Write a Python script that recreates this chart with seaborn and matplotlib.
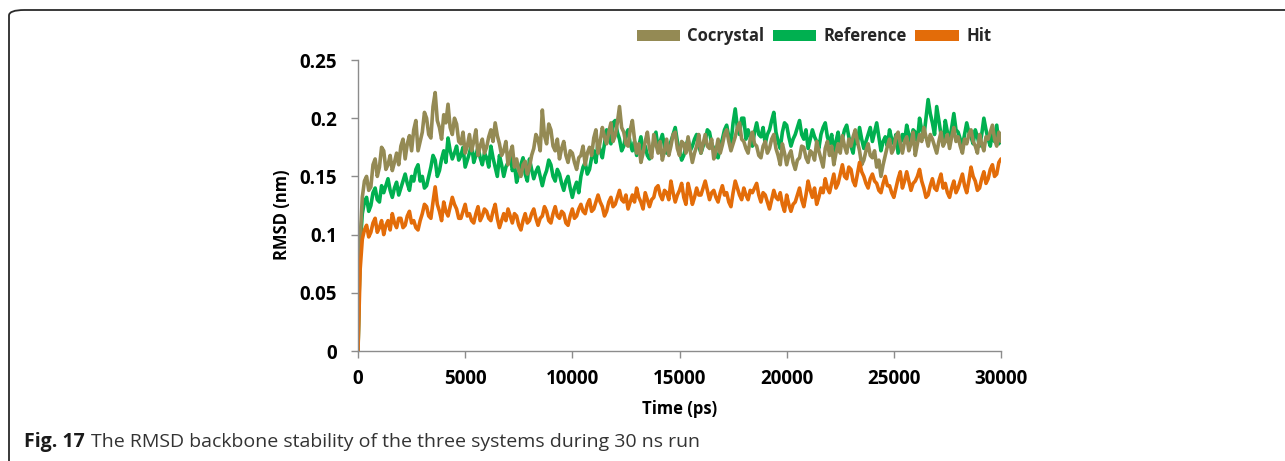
import numpy as np
import pandas as pd
import matplotlib
matplotlib.use("Agg")
import matplotlib.pyplot as plt
from matplotlib.patches import Patch, FancyBboxPatch
import seaborn as sns

# Backbone RMSD (nm) sampled every 100 ps over the 30 ns run
time_ps = list(range(0, 30001, 100))

cocrystal = [
    0.000, 0.095, 0.132, 0.146, 0.150, 0.138, 0.141, 0.160, 0.165, 0.150, 0.158, 0.175, 0.172, 0.156, 0.160, 0.168, 0.155, 0.162, 0.170, 0.160,
    0.176, 0.182, 0.165, 0.178, 0.185, 0.172, 0.190, 0.198, 0.172, 0.180, 0.188, 0.205, 0.200, 0.186, 0.183, 0.210, 0.222, 0.198, 0.192, 0.182,
    0.203, 0.196, 0.212, 0.192, 0.186, 0.200, 0.195, 0.180, 0.178, 0.188, 0.170, 0.176, 0.186, 0.172, 0.180, 0.190, 0.168, 0.176, 0.182, 0.170,
    0.175, 0.184, 0.190, 0.180, 0.196, 0.185, 0.178, 0.168, 0.172, 0.180, 0.160, 0.170, 0.176, 0.158, 0.165, 0.155, 0.150, 0.160, 0.163, 0.152,
    0.158, 0.168, 0.174, 0.186, 0.182, 0.172, 0.207, 0.185, 0.178, 0.195, 0.190, 0.176, 0.172, 0.182, 0.165, 0.174, 0.180, 0.168, 0.162, 0.172,
    0.170, 0.162, 0.156, 0.166, 0.168, 0.176, 0.160, 0.170, 0.175, 0.168, 0.183, 0.190, 0.170, 0.180, 0.192, 0.184, 0.178, 0.188, 0.196, 0.180,
    0.185, 0.196, 0.210, 0.192, 0.188, 0.178, 0.176, 0.190, 0.198, 0.182, 0.170, 0.178, 0.162, 0.170, 0.180, 0.188, 0.174, 0.166, 0.186, 0.178,
    0.170, 0.180, 0.164, 0.172, 0.182, 0.168, 0.176, 0.186, 0.188, 0.174, 0.168, 0.180, 0.178, 0.170, 0.184, 0.172, 0.162, 0.170, 0.176, 0.186,
    0.170, 0.178, 0.186, 0.176, 0.174, 0.182, 0.165, 0.172, 0.182, 0.170, 0.177, 0.186, 0.190, 0.180, 0.172, 0.178, 0.184, 0.192, 0.196, 0.182,
    0.180, 0.174, 0.170, 0.182, 0.188, 0.178, 0.176, 0.168, 0.166, 0.176, 0.180, 0.170, 0.174, 0.182, 0.186, 0.174, 0.168, 0.160, 0.178, 0.170,
    0.160, 0.168, 0.172, 0.162, 0.156, 0.164, 0.166, 0.176, 0.175, 0.166, 0.162, 0.172, 0.170, 0.164, 0.180, 0.172, 0.165, 0.158, 0.174, 0.180,
    0.168, 0.176, 0.160, 0.170, 0.178, 0.170, 0.185, 0.176, 0.170, 0.182, 0.176, 0.184, 0.190, 0.180, 0.172, 0.160, 0.164, 0.172, 0.178, 0.168,
    0.166, 0.172, 0.158, 0.164, 0.150, 0.160, 0.168, 0.176, 0.182, 0.170, 0.174, 0.184, 0.188, 0.178, 0.170, 0.180, 0.184, 0.172, 0.178, 0.188,
    0.168, 0.178, 0.186, 0.180, 0.192, 0.184, 0.176, 0.186, 0.182, 0.176, 0.170, 0.180, 0.188, 0.176, 0.180, 0.186, 0.174, 0.184, 0.192, 0.180,
    0.184, 0.176, 0.170, 0.182, 0.178, 0.186, 0.190, 0.180, 0.176, 0.170, 0.186, 0.178, 0.172, 0.184, 0.182, 0.188, 0.194, 0.182, 0.176, 0.188,
    0.180,
]

reference = [
    0.000, 0.090, 0.118, 0.128, 0.132, 0.120, 0.125, 0.136, 0.140, 0.130, 0.128, 0.142, 0.136, 0.142, 0.148, 0.138, 0.132, 0.140, 0.145, 0.134,
    0.140, 0.146, 0.152, 0.144, 0.138, 0.150, 0.146, 0.156, 0.160, 0.146, 0.150, 0.140, 0.142, 0.150, 0.158, 0.168, 0.164, 0.150, 0.155, 0.165,
    0.172, 0.162, 0.183, 0.172, 0.165, 0.170, 0.176, 0.164, 0.168, 0.175, 0.158, 0.164, 0.170, 0.178, 0.162, 0.168, 0.175, 0.166, 0.160, 0.170,
    0.166, 0.158, 0.176, 0.166, 0.158, 0.150, 0.168, 0.160, 0.150, 0.158, 0.162, 0.170, 0.155, 0.160, 0.145, 0.152, 0.160, 0.166, 0.152, 0.146,
    0.165, 0.156, 0.148, 0.154, 0.158, 0.150, 0.142, 0.150, 0.155, 0.164, 0.160, 0.150, 0.146, 0.156, 0.152, 0.144, 0.138, 0.146, 0.150, 0.140,
    0.132, 0.140, 0.145, 0.136, 0.150, 0.158, 0.162, 0.152, 0.156, 0.166, 0.172, 0.162, 0.180, 0.172, 0.166, 0.178, 0.190, 0.182, 0.178, 0.196,
    0.198, 0.188, 0.182, 0.172, 0.176, 0.186, 0.190, 0.178, 0.172, 0.180, 0.168, 0.176, 0.184, 0.172, 0.176, 0.168, 0.165, 0.172, 0.180, 0.188,
    0.174, 0.180, 0.186, 0.176, 0.170, 0.176, 0.180, 0.186, 0.192, 0.180, 0.172, 0.164, 0.168, 0.176, 0.182, 0.172, 0.176, 0.182, 0.186, 0.176,
    0.170, 0.176, 0.180, 0.190, 0.188, 0.178, 0.174, 0.168, 0.166, 0.176, 0.182, 0.190, 0.194, 0.184, 0.178, 0.196, 0.208, 0.192, 0.186, 0.200,
    0.200, 0.182, 0.190, 0.184, 0.176, 0.188, 0.196, 0.186, 0.184, 0.192, 0.178, 0.186, 0.190, 0.198, 0.205, 0.188, 0.180, 0.174, 0.188, 0.196,
    0.194, 0.184, 0.176, 0.182, 0.186, 0.192, 0.198, 0.186, 0.182, 0.190, 0.174, 0.182, 0.190, 0.184, 0.180, 0.174, 0.186, 0.192, 0.196, 0.184,
    0.178, 0.186, 0.170, 0.180, 0.188, 0.176, 0.182, 0.190, 0.194, 0.184, 0.176, 0.170, 0.185, 0.178, 0.192, 0.182, 0.174, 0.180, 0.186, 0.192,
    0.180, 0.188, 0.196, 0.184, 0.172, 0.180, 0.184, 0.176, 0.190, 0.182, 0.178, 0.186, 0.170, 0.178, 0.186, 0.180, 0.194, 0.186, 0.180, 0.190,
    0.188, 0.180, 0.200, 0.190, 0.184, 0.200, 0.216, 0.204, 0.196, 0.186, 0.210, 0.198, 0.186, 0.178, 0.198, 0.188, 0.180, 0.192, 0.204, 0.190,
    0.188, 0.182, 0.176, 0.186, 0.196, 0.188, 0.184, 0.178, 0.190, 0.184, 0.176, 0.186, 0.200, 0.190, 0.182, 0.176, 0.188, 0.180, 0.194, 0.178,
    0.185,
]

hit = [
    0.000, 0.070, 0.096, 0.104, 0.108, 0.098, 0.102, 0.110, 0.114, 0.102, 0.106, 0.112, 0.100, 0.108, 0.112, 0.104, 0.118, 0.110, 0.106, 0.114,
    0.114, 0.106, 0.108, 0.116, 0.120, 0.110, 0.112, 0.106, 0.104, 0.112, 0.118, 0.126, 0.124, 0.116, 0.114, 0.128, 0.141, 0.126, 0.120, 0.112,
    0.128, 0.120, 0.116, 0.124, 0.132, 0.126, 0.122, 0.114, 0.114, 0.120, 0.126, 0.116, 0.118, 0.112, 0.110, 0.118, 0.124, 0.112, 0.116, 0.122,
    0.120, 0.114, 0.112, 0.120, 0.126, 0.114, 0.106, 0.112, 0.118, 0.112, 0.122, 0.116, 0.110, 0.118, 0.116, 0.108, 0.104, 0.112, 0.118, 0.110,
    0.112, 0.118, 0.122, 0.114, 0.108, 0.114, 0.116, 0.124, 0.120, 0.112, 0.110, 0.118, 0.124, 0.116, 0.114, 0.120, 0.118, 0.110, 0.108, 0.116,
    0.122, 0.114, 0.116, 0.122, 0.126, 0.120, 0.118, 0.126, 0.130, 0.120, 0.122, 0.128, 0.134, 0.128, 0.124, 0.116, 0.120, 0.128, 0.132, 0.124,
    0.126, 0.132, 0.138, 0.130, 0.128, 0.134, 0.122, 0.128, 0.134, 0.128, 0.140, 0.132, 0.128, 0.122, 0.136, 0.130, 0.124, 0.130, 0.132, 0.140,
    0.142, 0.134, 0.130, 0.138, 0.136, 0.130, 0.146, 0.136, 0.128, 0.134, 0.138, 0.144, 0.132, 0.126, 0.144, 0.136, 0.126, 0.132, 0.140, 0.134,
    0.134, 0.140, 0.146, 0.138, 0.130, 0.136, 0.138, 0.132, 0.128, 0.136, 0.142, 0.134, 0.136, 0.128, 0.124, 0.136, 0.146, 0.140, 0.134, 0.130,
    0.140, 0.134, 0.130, 0.138, 0.136, 0.140, 0.144, 0.134, 0.128, 0.136, 0.134, 0.128, 0.122, 0.130, 0.138, 0.132, 0.130, 0.136, 0.126, 0.120,
    0.134, 0.126, 0.120, 0.126, 0.128, 0.134, 0.140, 0.130, 0.124, 0.134, 0.146, 0.138, 0.132, 0.140, 0.126, 0.132, 0.140, 0.136, 0.148, 0.140,
    0.136, 0.144, 0.152, 0.140, 0.144, 0.152, 0.160, 0.150, 0.148, 0.158, 0.156, 0.146, 0.142, 0.152, 0.162, 0.154, 0.150, 0.144, 0.140, 0.148,
    0.152, 0.146, 0.144, 0.138, 0.136, 0.144, 0.150, 0.142, 0.142, 0.136, 0.132, 0.140, 0.148, 0.154, 0.140, 0.146, 0.154, 0.146, 0.138, 0.144,
    0.146, 0.150, 0.156, 0.146, 0.140, 0.132, 0.134, 0.142, 0.148, 0.140, 0.138, 0.146, 0.152, 0.140, 0.144, 0.136, 0.132, 0.140, 0.146, 0.136,
    0.140, 0.146, 0.152, 0.142, 0.136, 0.146, 0.158, 0.150, 0.146, 0.138, 0.140, 0.148, 0.154, 0.144, 0.148, 0.156, 0.160, 0.150, 0.152, 0.162,
    0.165,
]

series_names = ["Cocrystal", "Reference", "Hit"]
series_colors = ["#948A54", "#00B050", "#E36C09"]
draw_order = ["Reference", "Cocrystal", "Hit"]
y_ticks = [0, 0.05, 0.1, 0.15, 0.2, 0.25]
y_tick_labels = ["0", "0.05", "0.1", "0.15", "0.2", "0.25"]
x_ticks = [0, 5000, 10000, 15000, 20000, 25000, 30000]

df = pd.concat([
    pd.DataFrame({"Time (ps)": time_ps, "RMSD (nm)": vals, "System": name})
    for name, vals in zip(series_names, [cocrystal, reference, hit])
], ignore_index=True)
palette = dict(zip(series_names, series_colors))

sns.set_theme(style="white")
plt.rcParams["font.family"] = ["Open Sans", "DejaVu Sans"]

W, H = 1285, 461
fig = plt.figure(figsize=(W / 100, H / 100), dpi=100)
ax = fig.add_axes([358 / W, 1 - 351 / H, 643 / W, 291 / H])

sns.lineplot(data=df, x="Time (ps)", y="RMSD (nm)", hue="System",
             hue_order=draw_order, palette=palette,
             estimator=None, linewidth=2.6, legend=False, ax=ax)

ax.set_xlim(0, 30000)
ax.set_ylim(0, 0.25)
ax.set_xticks(x_ticks)
ax.set_xticklabels([str(t) for t in x_ticks])
ax.set_yticks(y_ticks)
ax.set_yticklabels(y_tick_labels)

axis_gray = "#8C8C8C"
for side in ["top", "right"]:
    ax.spines[side].set_visible(False)
for side in ["left", "bottom"]:
    ax.spines[side].set_color(axis_gray)
    ax.spines[side].set_linewidth(1.0)

ax.tick_params(axis="both", which="major", direction="out", length=5,
               width=1.0, color=axis_gray, labelsize=13.5,
               bottom=True, left=True)
ax.tick_params(axis="x", pad=8)
ax.tick_params(axis="y", pad=10)
for lbl in ax.get_xticklabels() + ax.get_yticklabels():
    lbl.set_fontweight("bold")
    lbl.set_color("black")

ax.set_xlabel("Time (ps)", fontsize=12, fontweight="bold", color="black")
ax.set_ylabel("RMSD (nm)", fontsize=12, fontweight="bold", color="black")
ax.xaxis.set_label_coords(0.5, -0.17)
ax.yaxis.set_label_coords(-0.104, 0.468)

handles = [Patch(facecolor=c, edgecolor="none", label=n)
           for n, c in zip(series_names, series_colors)]
fig.legend(handles=handles, loc="center", bbox_to_anchor=(814 / W, 1 - 36 / H),
           ncol=3, frameon=False, handlelength=2.6, handleheight=0.66,
           handletextpad=0.45, columnspacing=0.5,
           prop={"weight": "bold", "size": 12})

# Panel border with a rounded corner
frame = FancyBboxPatch((9 / W, -0.2), 1.2, 1 - 10 / H + 0.2,
                       boxstyle="round,pad=0,rounding_size=0.012",
                       transform=fig.transFigure, fill=False,
                       edgecolor="#2a2a2a", linewidth=1.3, clip_on=False)
fig.patches.append(frame)

# Caption: bold figure number followed by regular text
cap_y = 1 - 442 / H
t1 = fig.text(24 / W, cap_y, "Fig. 17", fontsize=14, fontweight="bold",
              va="center", ha="left", color="#1a1a1a")
fig.canvas.draw()
bb = t1.get_window_extent()
fig.text((bb.x1 + 6) / W, cap_y,
         "The RMSD backbone stability of the three systems during 30 ns run",
         fontsize=14, va="center", ha="left", color="#333333")

fig.savefig("out.png", dpi=100, facecolor="white")
